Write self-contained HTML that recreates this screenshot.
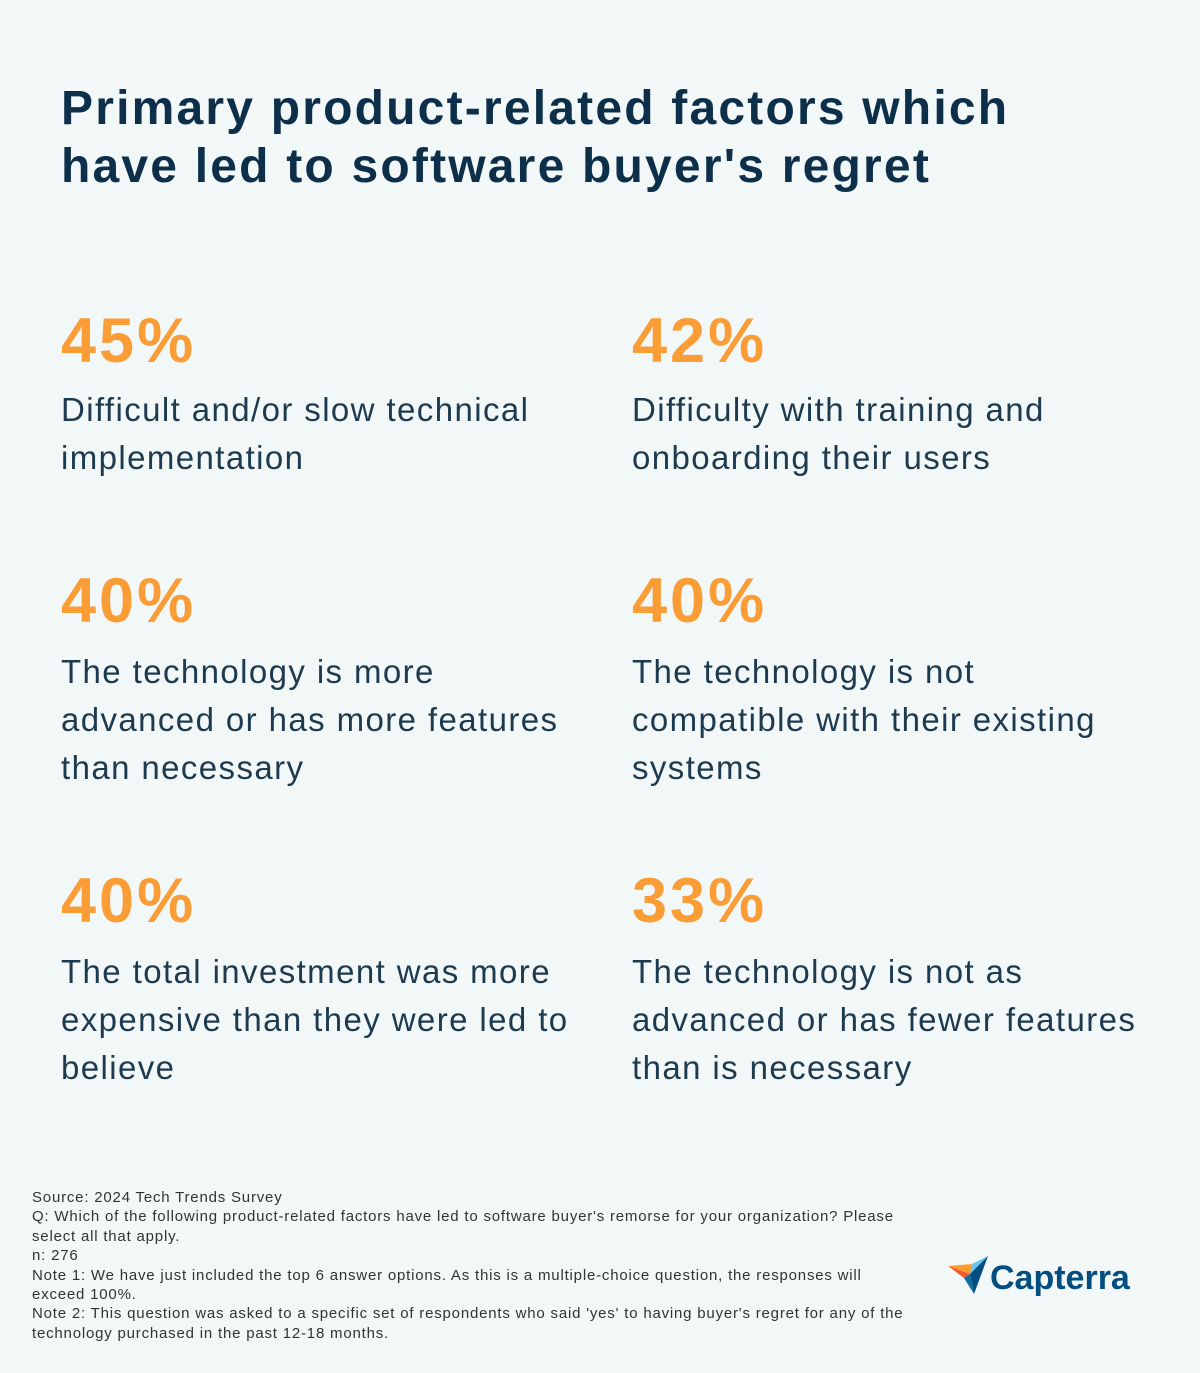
<!DOCTYPE html>
<html><head><meta charset="utf-8"><style>
body{margin:0;width:1200px;height:1373px;background:#f2f7f8;position:relative;font-family:"Liberation Sans",sans-serif;overflow:hidden}
.a{position:absolute;white-space:nowrap}
.t{left:61px;top:80px;font-size:48px;line-height:58px;font-weight:bold;color:#0d2f4a;letter-spacing:2.2px}
.p{font-size:63px;line-height:62px;font-weight:bold;color:#fb9d36;letter-spacing:3px}
.b{font-size:33px;line-height:48px;color:#1d3a4e;letter-spacing:1.4px}
.f{left:32px;top:1188px;font-size:15px;line-height:19.4px;color:#333;letter-spacing:0.8px}
</style></head><body>
<div class="a t">Primary product-related factors which<br>have led to software buyer's regret</div>

<div class="a p" style="left:61px;top:310px">45%</div>
<div class="a b" style="left:61px;top:386px">Difficult and/or slow technical<br>implementation</div>
<div class="a p" style="left:632px;top:310px">42%</div>
<div class="a b" style="left:632px;top:386px">Difficulty with training and<br>onboarding their users</div>

<div class="a p" style="left:61px;top:570px">40%</div>
<div class="a b" style="left:61px;top:648px">The technology is more<br>advanced or has more features<br>than necessary</div>
<div class="a p" style="left:632px;top:570px">40%</div>
<div class="a b" style="left:632px;top:648px">The technology is not<br>compatible with their existing<br>systems</div>

<div class="a p" style="left:61px;top:870px">40%</div>
<div class="a b" style="left:61px;top:948px">The total investment was more<br>expensive than they were led to<br>believe</div>
<div class="a p" style="left:632px;top:870px">33%</div>
<div class="a b" style="left:632px;top:948px">The technology is not as<br>advanced or has fewer features<br>than is necessary</div>

<div class="a f">Source: 2024 Tech Trends Survey<br>Q: Which of the following product-related factors have led to software buyer's remorse for your organization? Please<br>select all that apply.<br>n: 276<br>Note 1: We have just included the top 6 answer options. As this is a multiple-choice question, the responses will<br>exceed 100%.<br>Note 2: This question was asked to a specific set of respondents who said 'yes' to having buyer's regret for any of the<br>technology purchased in the past 12-18 months.</div>

<div class="a" style="left:948px;top:1254px">
<svg width="190" height="45" viewBox="0 0 190 45">
<polygon points="0,12 24,10 22,20" fill="#ff9d28"/>
<polygon points="0,12 22,20 16,24" fill="#f15a31"/>
<polygon points="24,10 40,2 22,20" fill="#68c5ed"/>
<polygon points="22,20 40,2 26,40" fill="#044d80"/>
<polygon points="16,24 22,20 26,40" fill="#0f6fa3"/>
<text x="42" y="35" font-family="Liberation Sans, sans-serif" font-size="34" font-weight="bold" fill="#044d80">Capterra</text>
</svg></div>
</body></html>
